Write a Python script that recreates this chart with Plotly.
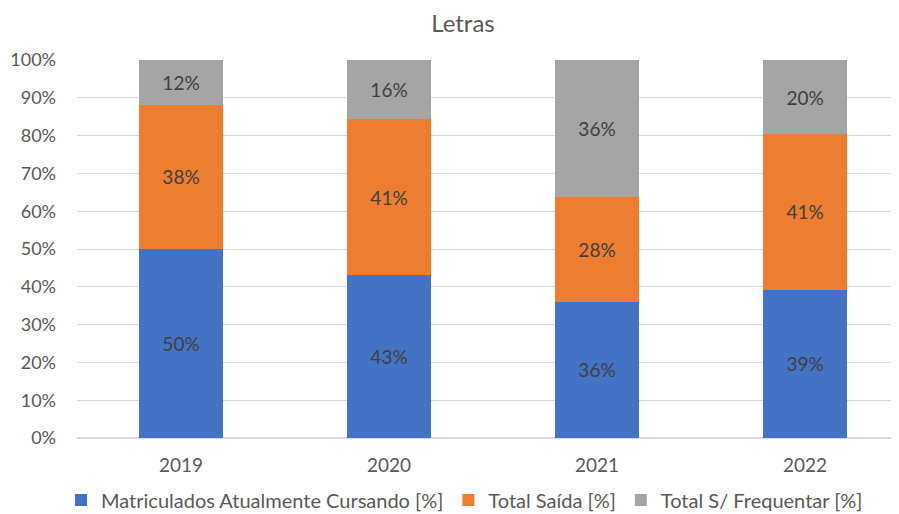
import plotly.graph_objects as go

years = ["2019", "2020", "2021", "2022"]
matriculados = [0.500, 0.431, 0.360, 0.392]
saida = [0.381, 0.413, 0.278, 0.412]
sem_frequentar = [0.119, 0.156, 0.362, 0.196]

series = [
    ("Matriculados Atualmente Cursando [%]", matriculados, "#4472C4"),
    ("Total Saída [%]", saida, "#ED7D31"),
    ("Total S/ Frequentar [%]", sem_frequentar, "#A5A5A5"),
]

# page body has an 8px margin, so the figure is 8px smaller and offset
W, H = 891, 506
FONT = "Lato"
fig = go.Figure()
for name, vals, color in series:
    fig.add_trace(go.Bar(
        x=years, y=vals, name=name,
        marker=dict(color=color, line=dict(width=0)),
        texttemplate="%{y:.0%}",
        textposition="inside",
        insidetextanchor="middle",
        textangle=0,
        textfont=dict(family=FONT, size=19, color="#404040"),
        hoverinfo="skip",
    ))

fig.update_layout(
    barmode="stack",
    bargap=0.596,
    width=W, height=H,
    margin=dict(l=69, r=1, t=52, b=76, autoexpand=False),
    paper_bgcolor="white", plot_bgcolor="white",
    font=dict(family=FONT, size=19, color="#595959"),
    title=dict(text="Letras", x=455 / W, xref="container", xanchor="center",
               y=1 - 16 / H, yref="container", yanchor="middle",
               font=dict(family=FONT, size=24, color="#595959")),
    showlegend=True,
    legend=dict(orientation="h", traceorder="normal",
                x=456.5 / W, xref="container", xanchor="center",
                y=14 / H, yref="container", yanchor="middle",
                font=dict(family=FONT, size=20, color="#595959"),
                itemwidth=30, tracegroupgap=0),
    uniformtext=dict(mode="show", minsize=18),
)
fig.update_xaxes(range=[-0.5, 3.447], showgrid=False, showline=False, ticks="",
                 automargin=False,
                 tickfont=dict(family=FONT, size=19, color="#595959"), ticklabelstandoff=14)
fig.update_yaxes(range=[0, 1], dtick=0.1, tickformat=".0%", showgrid=True,
                 automargin=False,
                 gridcolor="#D9D9D9", gridwidth=1, zeroline=True, zerolinecolor="#D9D9D9",
                 showline=False, ticks="", ticklabelstandoff=20,
                 tickfont=dict(family=FONT, size=18, color="#595959"))

fig.write_html("out.html")
